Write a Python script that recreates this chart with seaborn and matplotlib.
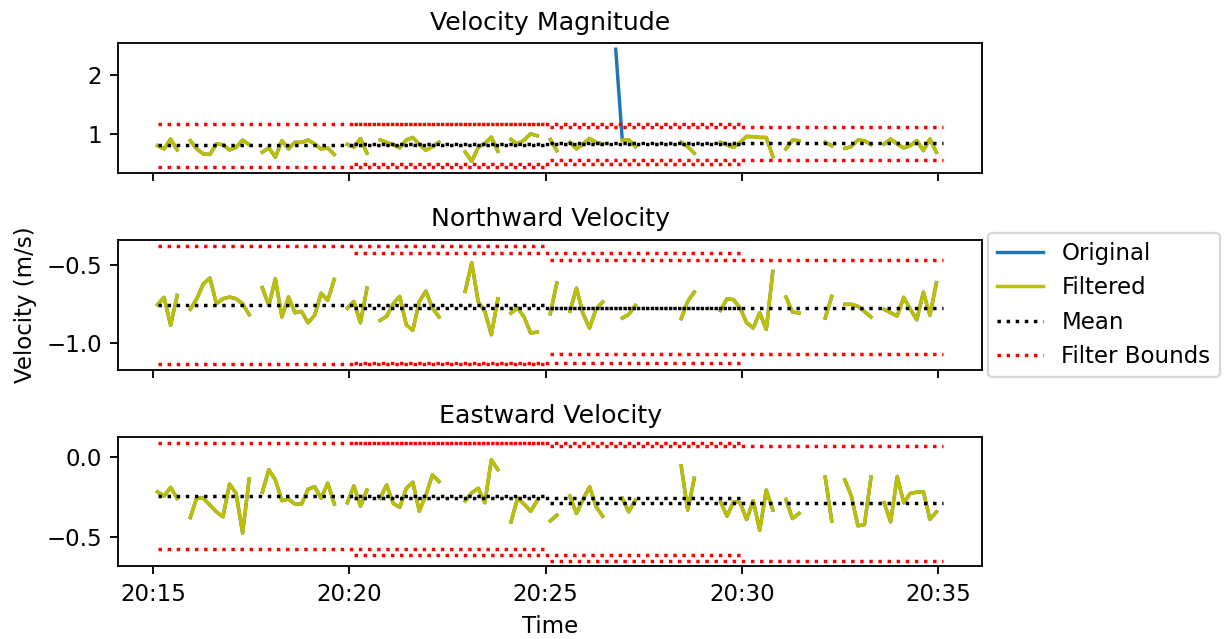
import numpy as np
import pandas as pd
import matplotlib
matplotlib.use("Agg")
import matplotlib.pyplot as plt
import matplotlib.dates as mdates
from matplotlib.lines import Line2D
import seaborn as sns

nan = np.nan

# ---- record: one sample every 10 s ----
start_time = "2024-06-01 20:15:07"
sample_step = "10s"
n_samples = 121

# velocity magnitude (m/s) after the outlier filter
magnitude_filtered = [
    0.806, 0.75, 0.917, 0.733, nan, 0.889, 0.75, 0.667, 0.656, 0.833,
    0.822, 0.733, 0.778, 0.9, 0.822, nan, 0.694, 0.767, 0.611, 0.889,
    0.75, 0.861, 0.861, 0.9, 0.833, 0.75, 0.767, 0.656, nan, 0.828,
    0.778, 0.925, 0.678, nan, 0.903, 0.861, 0.822, 0.767, 0.9, 0.944,
    0.822, 0.728, 0.789, 0.864, nan, nan, nan, 0.70, 0.54, 0.78,
    0.84, 0.95, 0.71, nan, 0.91, 0.833, 0.9, 1.005, 0.972, nan,
    0.91, 0.722, nan, 0.861, 0.75, 0.833, 0.928, 0.861, 0.833, nan,
    nan, 0.9, 0.9, 0.789, nan, nan, nan, nan, nan, nan,
    0.861, 0.789, 0.678, nan, nan, nan, 0.861, 0.817, 0.778, 0.861,
    0.961, 0.956, 0.944, 0.944, 0.622, nan, 0.75, 0.9, 0.889, nan,
    nan, nan, 0.861, 0.806, nan, 0.761, 0.789, 0.9, 0.889, 0.822,
    nan, 0.833, 0.917, 0.833, 0.767, 0.806, 0.889, 0.722, 0.917, 0.694,
    nan,
]
# raw magnitude: identical except the spike the filter removed
magnitude_original = list(magnitude_filtered)
magnitude_original[70] = 2.43

north_filtered = [
    -0.756, -0.709, -0.889, -0.697, nan, -0.786, -0.718, -0.622, -0.585, -0.75,
    -0.718, -0.707, -0.718, -0.75, -0.82, nan, -0.647, -0.761, -0.59, -0.835,
    -0.707, -0.808, -0.799, -0.872, -0.825, -0.682, -0.729, -0.594, nan, -0.778,
    -0.735, -0.872, -0.65, nan, -0.857, -0.831, -0.75, -0.703, -0.885, -0.921,
    -0.735, -0.669, -0.778, -0.835, nan, nan, nan, -0.671, -0.487, -0.739,
    -0.799, -0.949, -0.718, nan, -0.81, -0.778, -0.835, -0.938, -0.932, nan,
    -0.814, -0.618, nan, -0.799, -0.65, -0.814, -0.906, -0.782, -0.739, nan,
    nan, -0.842, -0.818, -0.761, nan, nan, nan, nan, nan, nan,
    -0.846, -0.735, -0.675, nan, nan, nan, -0.793, -0.718, -0.724, -0.778,
    -0.872, -0.906, -0.808, -0.915, -0.543, nan, -0.707, -0.803, -0.81, nan,
    nan, nan, -0.842, -0.703, nan, -0.754, -0.754, -0.767, -0.80, -0.835,
    nan, -0.786, -0.808, -0.829, -0.709, -0.786, -0.853, -0.675, -0.825, -0.615,
    nan,
]
north_original = list(north_filtered)

east_filtered = [
    -0.217, -0.243, -0.188, -0.257, nan, -0.378, -0.253, -0.257, -0.30, -0.342,
    -0.373, -0.167, -0.226, -0.475, -0.135, nan, -0.219, -0.078, -0.141, -0.272,
    -0.262, -0.293, -0.293, -0.20, -0.184, -0.257, -0.162, -0.293, nan, -0.285,
    -0.179, -0.306, -0.205, nan, -0.257, -0.173, -0.289, -0.314, -0.194, -0.156,
    -0.338, -0.236, -0.11, -0.152, nan, nan, nan, -0.274, -0.222, -0.194,
    -0.285, -0.015, -0.078, nan, -0.405, -0.257, -0.293, -0.338, -0.272, nan,
    -0.399, -0.363, nan, -0.243, -0.352, -0.264, -0.184, -0.31, -0.369, nan,
    nan, -0.257, -0.342, -0.268, nan, nan, nan, nan, nan, nan,
    -0.053, -0.331, -0.131, nan, nan, nan, -0.278, -0.369, -0.278, -0.285,
    -0.39, -0.272, -0.458, -0.205, -0.331, nan, -0.264, -0.384, -0.352, nan,
    nan, nan, -0.124, -0.399, nan, -0.141, -0.243, -0.43, -0.422, -0.124,
    nan, -0.285, -0.405, -0.12, -0.285, -0.226, -0.219, -0.215, -0.39, -0.342,
    nan,
]
east_original = list(east_filtered)

# ---- 10-minute statistics windows, stepped every 5 minutes ----
window_starts = ["20:15", "20:20", "20:25"]
window_minutes = 10

magnitude_mean = [0.81, 0.838, 0.843]
magnitude_upper = [1.175, 1.175, 1.127]
magnitude_lower = [0.447, 0.50, 0.557]

north_mean = [-0.757, -0.775, -0.777]
north_upper = [-0.38, -0.425, -0.472]
north_lower = [-1.135, -1.13, -1.075]

east_mean = [-0.24, -0.257, -0.289]
east_upper = [0.091, 0.09, 0.07]
east_lower = [-0.574, -0.616, -0.648]

panel_titles = ["Velocity Magnitude", "Northward Velocity", "Eastward Velocity"]
panel_yticks = [[1, 2], [-1.0, -0.5], [-0.5, 0.0]]
legend_labels = ["Original", "Filtered", "Mean", "Filter Bounds"]

ORIGINAL_COLOR = "#1f77b4"
FILTERED_COLOR = "y"
MEAN_COLOR = "k"
BOUND_COLOR = "r"

times = pd.date_range(start_time, periods=n_samples, freq=sample_step)
day = times[0].normalize()


def gap_frame(values):
    """Samples with a run id that changes at every gap, so runs draw as separate lines."""
    v = pd.Series(values, dtype=float)
    frame = pd.DataFrame({"time": times, "value": v, "run": v.isna().cumsum()})
    return frame.dropna()


def window_span(k):
    start = day + pd.Timedelta(window_starts[k] + ":00")
    stop = start + pd.Timedelta(minutes=window_minutes)
    if k == len(window_starts) - 1:
        inside = times[times >= start]  # last window runs to the end of the record
    else:
        inside = times[(times >= start) & (times < stop)]
    return inside[0], inside[-1]


def draw_panel(ax, original, filtered, means, uppers, lowers):
    sns.lineplot(data=gap_frame(original), x="time", y="value", units="run",
                 estimator=None, color=ORIGINAL_COLOR, lw=1.5, ax=ax, legend=False)
    sns.lineplot(data=gap_frame(filtered), x="time", y="value", units="run",
                 estimator=None, color=FILTERED_COLOR, lw=1.5, ax=ax, legend=False)
    for k in range(len(window_starts)):
        t_a, t_b = window_span(k)
        span = [t_a, t_b]
        sns.lineplot(x=span, y=[means[k]] * 2, color=MEAN_COLOR, linestyle=":",
                     lw=1.5, ax=ax)
        sns.lineplot(x=span, y=[uppers[k]] * 2, color=BOUND_COLOR, linestyle=":",
                     lw=1.5, ax=ax)
        sns.lineplot(x=span, y=[lowers[k]] * 2, color=BOUND_COLOR, linestyle=":",
                     lw=1.5, ax=ax)


fig, axes = plt.subplots(3, 1, sharex=True, figsize=(1228 / 165, 639 / 165), dpi=165)
fig.subplots_adjust(left=0.0963, right=0.7999, top=0.9322, bottom=0.1135, hspace=0.52)

panels = [
    (magnitude_original, magnitude_filtered, magnitude_mean, magnitude_upper, magnitude_lower),
    (north_original, north_filtered, north_mean, north_upper, north_lower),
    (east_original, east_filtered, east_mean, east_upper, east_lower),
]

for ax, title, ticks, series in zip(axes, panel_titles, panel_yticks, panels):
    draw_panel(ax, *series)
    ax.set_title(title, fontsize=11)
    ax.set_yticks(ticks)
    ax.set_xlabel("")
    ax.set_ylabel("")

axes[1].set_ylabel("Velocity (m/s)")
axes[2].set_xlabel("Time")
axes[2].xaxis.set_major_locator(mdates.MinuteLocator(byminute=range(0, 60, 5)))
axes[2].xaxis.set_major_formatter(mdates.DateFormatter("%H:%M"))

handles = [
    Line2D([], [], color=ORIGINAL_COLOR, lw=1.5),
    Line2D([], [], color=FILTERED_COLOR, lw=1.5),
    Line2D([], [], color=MEAN_COLOR, lw=1.5, linestyle=":"),
    Line2D([], [], color=BOUND_COLOR, lw=1.5, linestyle=":"),
]
axes[1].legend(handles, legend_labels, loc="center left", bbox_to_anchor=(1.0, 0.5),
               borderaxespad=0.25)

fig.savefig("out.png", dpi=165)
